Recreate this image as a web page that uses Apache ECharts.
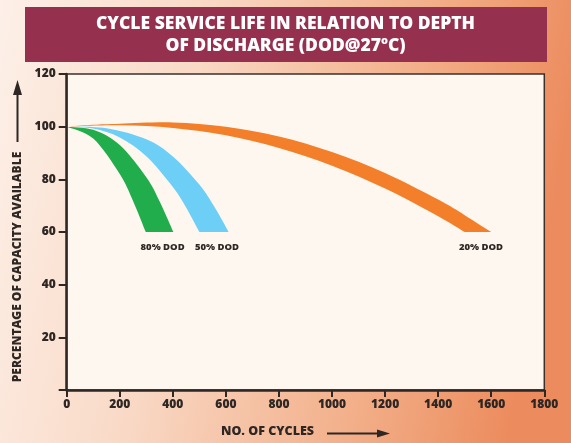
<!DOCTYPE html>
<html><head><meta charset="utf-8">
<script src="https://cdn.jsdelivr.net/npm/echarts@6/dist/echarts.min.js"></script>
<style>html,body{margin:0;padding:0;}#c{width:571px;height:443px;}</style>
</head><body><div id="c"></div>
<script>
// ---- data ----
const titleLine1 = 'CYCLE SERVICE LIFE IN RELATION TO DEPTH';
const titleLine2a = 'OF DISCHARGE (DOD@27';
const titleSup = 'o';
const titleLine2b = 'C)';
const xAxisName = 'NO. OF CYCLES';
const yAxisName = 'PERCENTAGE OF CAPACITY AVAILABLE';
const xMin = 0, xMax = 1800, xStep = 200;
const yMin = 0, yMax = 120, yStep = 20;
const bandLabels = ['80% DOD', '50% DOD', '20% DOD'];
// outer (right / upper) and inner (left / lower) edges of each band: [cycles, % capacity]
const dod80Outer = [[0,100],[100,98.8],[200,93],[300,80.8],[350,71.7],[402,60]];
const dod80Inner = [[0,100],[100,95.5],[200,82],[250,71.8],[298,60]];
const dod50Outer = [[0,100],[150,99.4],[300,95.2],[400,88.7],[500,78],[560,69],[610,60]];
const dod50Inner = [[0,100],[100,99.3],[200,95.9],[300,88.8],[400,77.1],[450,69.3],[500,60]];
const dod20Outer = [[0,100],[100,100.7],[200,101.1],[400,101.6],[600,100],[800,96.3],[1000,90.4],[1200,82.4],[1400,72.3],[1500,66.4],[1600,60]];
const dod20Inner = [[0,100],[200,100.5],[400,99.5],[600,96.7],[800,91.9],[1000,85.2],[1200,76.5],[1400,66],[1500,60]];
const bandColors = ['#22ad4d', '#6dcff6', '#f47f2a'];

const bands = [
  {name: bandLabels[0], outer: dod80Outer, inner: dod80Inner, color: bandColors[0]},
  {name: bandLabels[1], outer: dod50Outer, inner: dod50Inner, color: bandColors[1]},
  {name: bandLabels[2], outer: dod20Outer, inner: dod20Inner, color: bandColors[2]}
];

function crSegs(p) {
  let s = '';
  for (let i = 0; i < p.length - 1; i++) {
    const p0 = p[Math.max(i - 1, 0)], p1 = p[i], p2 = p[i + 1], p3 = p[Math.min(i + 2, p.length - 1)];
    const c1 = [p1[0] + (p2[0] - p0[0]) / 6, p1[1] + (p2[1] - p0[1]) / 6];
    const c2 = [p2[0] - (p3[0] - p1[0]) / 6, p2[1] - (p3[1] - p1[1]) / 6];
    s += ' C' + c1[0] + ',' + c1[1] + ' ' + c2[0] + ',' + c2[1] + ' ' + p2[0] + ',' + p2[1];
  }
  return s;
}

const FONT = '"Open Sans", sans-serif';
const DARK = '#2f2724';

const series = bands.map(function (b) {
  return {
    type: 'custom',
    name: b.name,
    coordinateSystem: 'cartesian2d',
    data: [b.outer[b.outer.length - 1]],
    silent: true,
    renderItem: function (params, api) {
      const o = b.outer.map(function (d) { return api.coord(d); });
      const inn = b.inner.map(function (d) { return api.coord(d); }).reverse();
      const path = 'M' + o[0][0] + ',' + o[0][1] + crSegs(o) + ' L' + inn[0][0] + ',' + inn[0][1] + crSegs(inn) + ' Z';
      const endO = o[o.length - 1], endI = inn[0];
      return {
        type: 'group',
        children: [
          {type: 'path', shape: {pathData: path}, style: {fill: b.color, stroke: null}},
          {type: 'text', style: {text: b.name, x: (endO[0] + endI[0]) / 2 + 3, y: endO[1] + 15.5,
            align: 'center', verticalAlign: 'middle', fontFamily: FONT, fontWeight: 800, fontSize: 9.5, fill: DARK}}
        ]
      };
    }
  };
});

const chart = echarts.init(document.getElementById('c'), null, {renderer: 'canvas'});
chart.setOption({
  backgroundColor: new echarts.graphic.LinearGradient(0, 0, 1, 0.25, [
    {offset: 0, color: '#fdf0e8'},
    {offset: 0.35, color: '#f9d9c6'},
    {offset: 0.75, color: '#f2ad86'},
    {offset: 1, color: '#ec8c5e'}
  ]),
  animation: false,
  title: {
    text: '{a|' + titleLine1 + '}\n{a|' + titleLine2a + '}{s|' + titleSup + '}{a|' + titleLine2b + '}',
    left: 'center', top: 13, padding: 0,
    textStyle: {
      rich: {
        a: {fontFamily: FONT, fontWeight: 800, fontSize: 17.5, color: '#ffffff', lineHeight: 22},
        s: {fontFamily: FONT, fontWeight: 800, fontSize: 11, color: '#ffffff', lineHeight: 22, verticalAlign: 'top', padding: [0, 0, 6, 0]}
      }
    }
  },
  graphic: [
    {type: 'rect', left: 25, top: 7, shape: {width: 522, height: 55}, style: {fill: '#95304f'}, z: -1},
    {type: 'group', children: [
      {type: 'line', shape: {x1: 17.5, y1: 142, x2: 17.5, y2: 92}, style: {stroke: DARK, lineWidth: 2}},
      {type: 'polygon', shape: {points: [[17.5, 80], [13, 95], [22, 95]]}, style: {fill: DARK}}
    ]},
    {type: 'group', children: [
      {type: 'line', shape: {x1: 327, y1: 433.5, x2: 380, y2: 433.5}, style: {stroke: DARK, lineWidth: 2}},
      {type: 'polygon', shape: {points: [[390, 433.5], [377, 429.5], [377, 437.5]]}, style: {fill: DARK}}
    ]}
  ],
  grid: {
    left: 66.7, right: 26.7, top: 74, bottom: 51,
    show: true, backgroundColor: '#fdf7ef', borderColor: '#3a302c', borderWidth: 1.5
  },
  xAxis: {
    type: 'value', min: xMin, max: xMax, interval: xStep,
    name: xAxisName, nameLocation: 'middle', nameGap: 35,
    nameTextStyle: {fontFamily: FONT, fontWeight: 800, fontSize: 12.5, color: DARK, padding: [0, 76, 0, 0]},
    axisLine: {show: true, lineStyle: {color: DARK, width: 2.5}},
    axisTick: {show: true, length: 7, lineStyle: {color: DARK, width: 2}},
    axisLabel: {fontFamily: FONT, fontWeight: 800, fontSize: 12, color: DARK, margin: 9,
      formatter: function (v) { return String(v); }},
    splitLine: {show: false}
  },
  yAxis: {
    type: 'value', min: yMin, max: yMax, interval: yStep,
    name: yAxisName, nameLocation: 'middle', nameGap: 42,
    nameTextStyle: {fontFamily: FONT, fontWeight: 800, fontSize: 12, color: DARK, padding: [0, 70, 0, 0]},
    axisLine: {show: true, lineStyle: {color: DARK, width: 2.5}},
    axisTick: {show: true, length: 8, lineStyle: {color: DARK, width: 2}},
    axisLabel: {fontFamily: FONT, fontWeight: 800, fontSize: 12, color: DARK, margin: 11,
      formatter: function (v) { return v === 0 ? '' : String(v); }},
    splitLine: {show: false}
  },
  series: series
});
</script>
</body></html>
